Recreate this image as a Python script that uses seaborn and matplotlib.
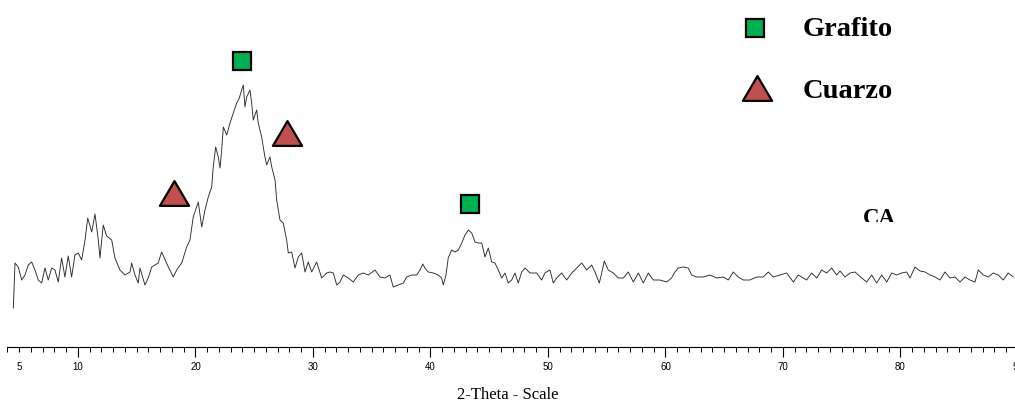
import matplotlib

matplotlib.use("Agg")
import matplotlib.pyplot as plt
from matplotlib.path import Path as MPath
from matplotlib.transforms import Bbox, TransformedBbox
import numpy as np
import pandas as pd
import seaborn as sns

# XRD pattern (2-theta in degrees, intensity in arbitrary counts)
two_theta = [
    4.50, 4.64, 4.92, 5.21, 5.49, 5.77, 6.06, 6.34, 6.62, 6.91, 7.19, 7.47, 7.76, 8.04,
    8.32, 8.61, 8.89, 9.17, 9.46, 9.74, 10.03, 10.31, 10.60, 10.83, 11.17, 11.45, 11.73,
    11.87, 12.15, 12.44, 12.87, 13.15, 13.57, 14.00, 14.43, 14.57, 14.85, 15.13, 15.28,
    15.70, 15.98, 16.27, 16.83, 17.12, 17.69, 18.11, 18.40, 18.83, 19.25, 19.53, 19.81,
    20.10, 20.24, 20.53, 20.81, 21.09, 21.38, 21.51, 21.72, 21.94, 22.09, 22.23, 22.37,
    22.66, 22.94, 23.22, 23.51, 23.73, 23.93, 24.07, 24.21, 24.36, 24.64, 24.78, 24.92,
    25.21, 25.34, 25.63, 25.91, 26.06, 26.34, 26.49, 26.77, 26.91, 27.19, 27.47, 27.76,
    27.90, 28.19, 28.47, 28.75, 29.04, 29.32, 29.60, 29.89, 30.31, 30.74, 31.16, 31.45,
    31.73, 32.02, 32.30, 32.58, 33.00, 33.43, 33.86, 34.28, 34.71, 35.28, 35.70, 36.13,
    36.55, 36.83, 37.26, 37.69, 37.97, 38.40, 38.83, 39.11, 39.34, 39.53, 39.81, 40.24,
    40.66, 40.95, 41.09, 41.32, 41.51, 41.80, 42.09, 42.37, 42.66, 42.94, 43.22, 43.51,
    43.79, 44.07, 44.36, 44.64, 44.92, 45.21, 45.49, 45.77, 46.06, 46.34, 46.62, 46.91,
    47.19, 47.47, 47.76, 48.04, 48.47, 49.04, 49.46, 49.74, 50.17, 50.45, 50.74, 51.16,
    51.59, 52.02, 52.44, 52.87, 53.29, 53.72, 54.00, 54.37, 54.57, 54.79, 55.13, 55.56,
    55.98, 56.41, 56.83, 57.26, 57.69, 58.11, 58.54, 58.96, 59.53, 60.10, 60.52, 60.81,
    61.09, 61.51, 61.94, 62.22, 62.65, 63.22, 63.79, 64.36, 64.92, 65.34, 65.77, 66.20,
    66.62, 67.19, 67.76, 68.32, 68.75, 69.17, 69.74, 70.31, 70.88, 71.30, 71.73, 72.01,
    72.44, 72.87, 73.29, 73.72, 74.14, 74.57, 74.85, 75.28, 75.70, 76.13, 76.70, 77.12,
    77.55, 77.97, 78.40, 78.83, 79.25, 79.68, 80.10, 80.53, 80.81, 81.23, 81.66, 82.09,
    82.51, 82.94, 83.36, 83.79, 84.21, 84.64, 85.06, 85.49, 85.91, 86.34, 86.62, 87.05,
    87.47, 87.89, 88.32, 88.74, 89.17, 89.60,
]
intensity = [
    39, 84, 80, 67, 72, 82, 85, 77, 67, 64, 79, 67, 79, 77,
    65, 89, 70, 91, 70, 92, 94, 87, 107, 129, 115, 133, 107,
    89, 122, 111, 107, 89, 77, 72, 75, 84, 72, 64, 79,
    62, 69, 80, 84, 95, 80, 70, 77, 84, 100, 107, 130,
    140, 145, 120, 137, 150, 160, 180, 200, 190, 179, 197, 220,
    212, 224, 234, 244, 249, 257, 262, 240, 250, 257, 244, 227,
    237, 224, 210, 190, 182, 190, 180, 167, 147, 127, 124, 107,
    94, 95, 79, 90, 94, 75, 85, 75, 85, 69, 74, 75,
    74, 62, 65, 72, 69, 65, 72, 74, 72, 77, 70, 69,
    72, 60, 62, 64, 70, 72, 72, 77, 83, 79, 75, 74,
    72, 69, 62, 72, 89, 97, 95, 97, 104, 112, 117, 114,
    105, 104, 104, 90, 99, 85, 84, 77, 69, 74, 64, 67,
    74, 64, 75, 79, 74, 74, 67, 74, 77, 64, 69, 74,
    67, 74, 79, 84, 77, 82, 75, 64, 74, 86, 77, 74,
    69, 69, 75, 65, 74, 64, 74, 67, 67, 65, 69, 75,
    79, 80, 79, 72, 70, 70, 72, 69, 70, 67, 75, 70,
    67, 67, 70, 70, 75, 70, 72, 74, 65, 72, 69, 67,
    74, 69, 77, 74, 79, 72, 76, 70, 74, 75, 69, 65,
    72, 64, 72, 65, 74, 72, 74, 75, 69, 80, 76, 75,
    72, 70, 67, 75, 69, 70, 65, 70, 67, 65, 77, 72,
    70, 74, 72, 67, 74, 70,
]

# phase markers
grafito_theta = [23.96, 43.36]
grafito_y = [286, 143]
cuarzo_theta = [18.17, 27.79]
cuarzo_y = [154, 214]

tick_values = [5, 10, 20, 30, 40, 50, 60, 70, 80, 90]
x_label = "2-Theta - Scale"
legend_labels = ["Grafito", "Cuarzo"]
sample_label = "CA"

GREEN = "#00B050"
RED = "#C0504D"
TRIANGLE = MPath([(-1.0, -0.85), (1.0, -0.85), (0.0, 0.85), (-1.0, -0.85)],
                 [MPath.MOVETO, MPath.LINETO, MPath.LINETO, MPath.CLOSEPOLY])

sns.set_style("white")
plt.rcParams["font.family"] = ["Liberation Sans", "DejaVu Sans"]
plt.rcParams["text.color"] = "black"
plt.rcParams["xtick.color"] = "black"
plt.rcParams["xtick.labelcolor"] = "black"

W, H = 1015, 403
fig = plt.figure(figsize=(W / 100, H / 100), dpi=100)
# axes runs a little past the right edge, the "90" label is cut like in the source
ax = fig.add_axes([7 / W, (H - 347) / H, 1011 / W, 347 / H])

df = pd.DataFrame({"two_theta": two_theta, "intensity": intensity})
sns.lineplot(data=df, x="two_theta", y="intensity", estimator=None, color="#2a2a2a",
             lw=0.65, ax=ax)

marker_kw = dict(ls="none", markeredgecolor="black", markeredgewidth=1.6, clip_on=False)
ax.plot(grafito_theta, grafito_y, marker="s", ms=13.5, markerfacecolor=GREEN, **marker_kw)
ax.plot(cuarzo_theta, cuarzo_y, marker=TRIANGLE, ms=21, markerfacecolor=RED, **marker_kw)

ax.set_xlim(3.96, 90)
ax.set_ylim(0, 347)
ax.set_xticks(tick_values)
ax.set_xticks(np.arange(4, 91, 1), minor=True)
ax.set_xticklabels([str(v) for v in tick_values], fontsize=7, color="black")
ax.tick_params(axis="x", which="major", direction="out", length=7, width=0.8,
               color="black", pad=4, bottom=True)
ax.tick_params(axis="x", which="minor", direction="out", length=3.8, width=0.7,
               color="black", bottom=True)
ax.xaxis.get_major_ticks()[0].tick1line.set_markersize(3.8)
ax.set_yticks([])
ax.set_xlabel("")
ax.set_ylabel("")
for side in ("left", "right", "top"):
    ax.spines[side].set_visible(False)
ax.spines["bottom"].set_color("black")
ax.spines["bottom"].set_linewidth(0.8)

fig.text(508 / W, 1 - 395 / H, x_label, ha="center", va="center",
         family="Liberation Serif", fontsize=12, color="black")

# legend in the top right corner
fig.lines.append(plt.Line2D([755 / W], [1 - 28 / H], transform=fig.transFigure, marker="s",
                            ms=13.5, markerfacecolor=GREEN, markeredgecolor="black",
                            markeredgewidth=1.6, ls="none"))
fig.lines.append(plt.Line2D([757 / W], [1 - 88 / H], transform=fig.transFigure,
                            marker=TRIANGLE, ms=21, markerfacecolor=RED,
                            markeredgecolor="black", markeredgewidth=1.6, ls="none"))
for label, ypx in zip(legend_labels, [29, 92]):
    fig.text(803 / W, 1 - ypx / H, label, ha="left", va="center", color="black",
             family="Liberation Serif", weight="bold", fontsize=20.5)

# sample name, its lower part is cut off in the source
ca = fig.text(879 / W, 1 - 224 / H, sample_label, ha="center", va="baseline",
              family="Liberation Serif", weight="bold", fontsize=16.5, color="black")
ca.set_clip_box(TransformedBbox(Bbox([[0, 1 - 222 / H], [1, 1]]), fig.transFigure))
ca.set_clip_on(True)

fig.savefig("out.png", dpi=100)
